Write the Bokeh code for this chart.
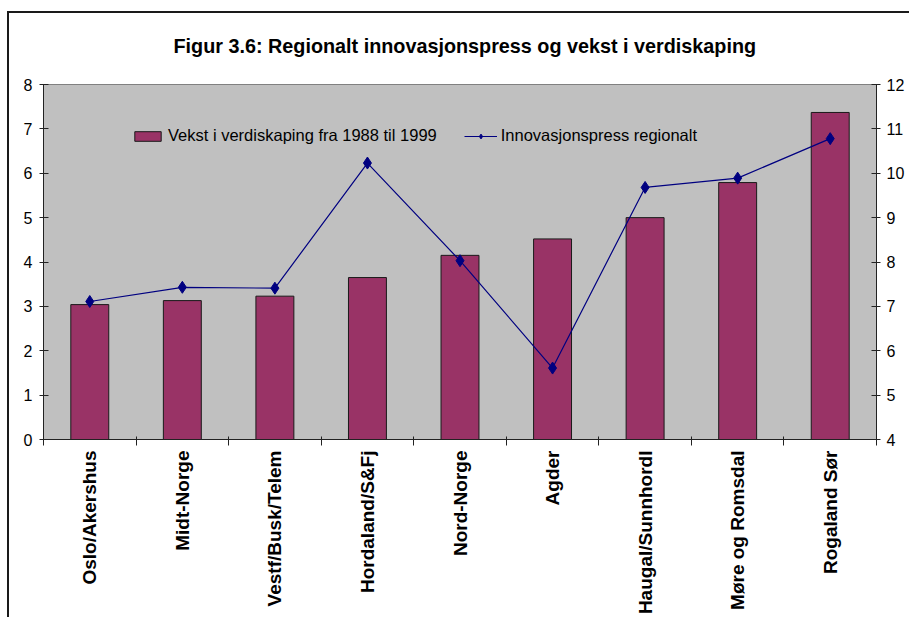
from bokeh.plotting import figure
from bokeh.models import Range1d, LinearAxis, FixedTicker, Legend, LegendItem, InlineStyleSheet
from bokeh.embed import file_html
from bokeh.resources import INLINE

# ---- data ----
regions = ["Oslo/Akershus", "Midt-Norge", "Vestf/Busk/Telem", "Hordaland/S&Fj",
           "Nord-Norge", "Agder", "Haugal/Sunnhordl", "Møre og Romsdal", "Rogaland Sør"]
vekst = [3.04, 3.13, 3.23, 3.65, 4.15, 4.52, 5.00, 5.79, 7.37]
innovasjon = [7.11, 7.43, 7.41, 10.23, 8.03, 5.61, 9.68, 9.89, 10.78]
left_ticks = [0, 1, 2, 3, 4, 5, 6, 7, 8]
right_ticks = [4, 5, 6, 7, 8, 9, 10, 11, 12]
title_text = "Figur 3.6: Regionalt innovasjonspress og vekst i verdiskaping"
bar_label = "Vekst i verdiskaping fra 1988 til 1999"
line_label = "Innovasjonspress regionalt"

FONT = "Liberation Sans"
xc = [i + 0.5 for i in range(len(regions))]

W, H = 909, 617
FL, FR, FT, FB = 43, 33, 84, 178   # frame margins
p = figure(width=W, height=H, output_backend="svg", toolbar_location=None,
           x_range=Range1d(0, len(regions)), y_range=Range1d(0, 8),
           min_border_left=FL, min_border_right=FR, min_border_top=FT, min_border_bottom=FB,
           x_axis_location=None, y_axis_location=None)
p.extra_y_ranges = {"right": Range1d(4, 12)}
p.background_fill_color = "#C0C0C0"
p.border_fill_color = "white"
p.outline_line_color = "#808080"
p.xgrid.visible = False
p.ygrid.visible = False

p.title.text = title_text
p.title.align = "left"
p.title.offset = 130
p.title.text_font = FONT
p.title.text_font_style = "bold"
p.title.text_font_size = "19.8px"
p.title.text_color = "black"
p.title.standoff = 56

# bottom axis: labels at centres, ticks at boundaries
xa = LinearAxis(ticker=FixedTicker(ticks=xc, minor_ticks=list(range(len(regions) + 1))))
xa.major_label_overrides = {x: r for x, r in zip(xc, regions)}
xa.major_label_orientation = 3.14159265 / 2
xa.major_label_text_font = FONT
xa.major_label_text_font_style = "bold"
xa.major_label_text_font_size = "19px"
xa.major_label_text_color = "black"
xa.major_label_standoff = 5
xa.major_tick_line_color = None
xa.major_tick_out = 0
xa.major_tick_in = 0
xa.minor_tick_line_color = "#222222"
xa.minor_tick_out = 6
xa.minor_tick_in = 3
xa.axis_line_color = "#222222"
p.add_layout(xa, "below")

ya = LinearAxis(ticker=FixedTicker(ticks=left_ticks, minor_ticks=[]))
ya.major_label_text_font = FONT
ya.major_label_text_font_size = "16px"
ya.major_label_text_color = "black"
ya.major_label_standoff = 7
ya.major_tick_out = 4
ya.major_tick_in = 5
ya.major_tick_line_color = "#222222"
ya.axis_line_color = "#222222"
p.add_layout(ya, "left")

yr = LinearAxis(y_range_name="right", ticker=FixedTicker(ticks=right_ticks, minor_ticks=[]))
yr.major_label_text_font = FONT
yr.major_label_text_font_size = "16px"
yr.major_label_text_color = "black"
yr.major_label_standoff = 6
yr.major_tick_out = 4
yr.major_tick_in = 5
yr.major_tick_line_color = "#222222"
yr.axis_line_color = "#222222"
p.add_layout(yr, "right")

bars = p.vbar(x=xc, top=vekst, width=0.41, bottom=0, fill_color="#993366",
              line_color="#1a1a1a", line_width=1)
ln = p.line(x=xc, y=innovasjon, y_range_name="right", line_color="#000080", line_width=1.2)
mk = p.scatter(x=xc, y=innovasjon, y_range_name="right", marker="diamond", size=12,
               fill_color="#000080", line_color="#000080")

legend = Legend(items=[LegendItem(label=bar_label, renderers=[bars]),
                       LegendItem(label=line_label, renderers=[ln, mk])],
                orientation="horizontal", location=(88, 294),
                background_fill_alpha=0, border_line_color=None,
                padding=0, margin=0, spacing=27,
                glyph_width=33, glyph_height=12, label_height=16, label_standoff=4,
                label_text_font=FONT, label_text_font_size="16.5px", label_text_color="black")
p.add_layout(legend, "center")

# outer chart border (left and top edges; right/bottom lie beyond the cropped view)
p.stylesheets = [InlineStyleSheet(css="""
:host { position: relative; }
:host::after {
  content: ""; position: absolute; left: 7px; top: 11px; right: 0; bottom: 0;
  border-left: 2px solid #1a1a1a; border-top: 2px solid #1a1a1a;
  pointer-events: none; z-index: 10;
}
""")]

open("out.html", "w").write(file_html(p, INLINE))
